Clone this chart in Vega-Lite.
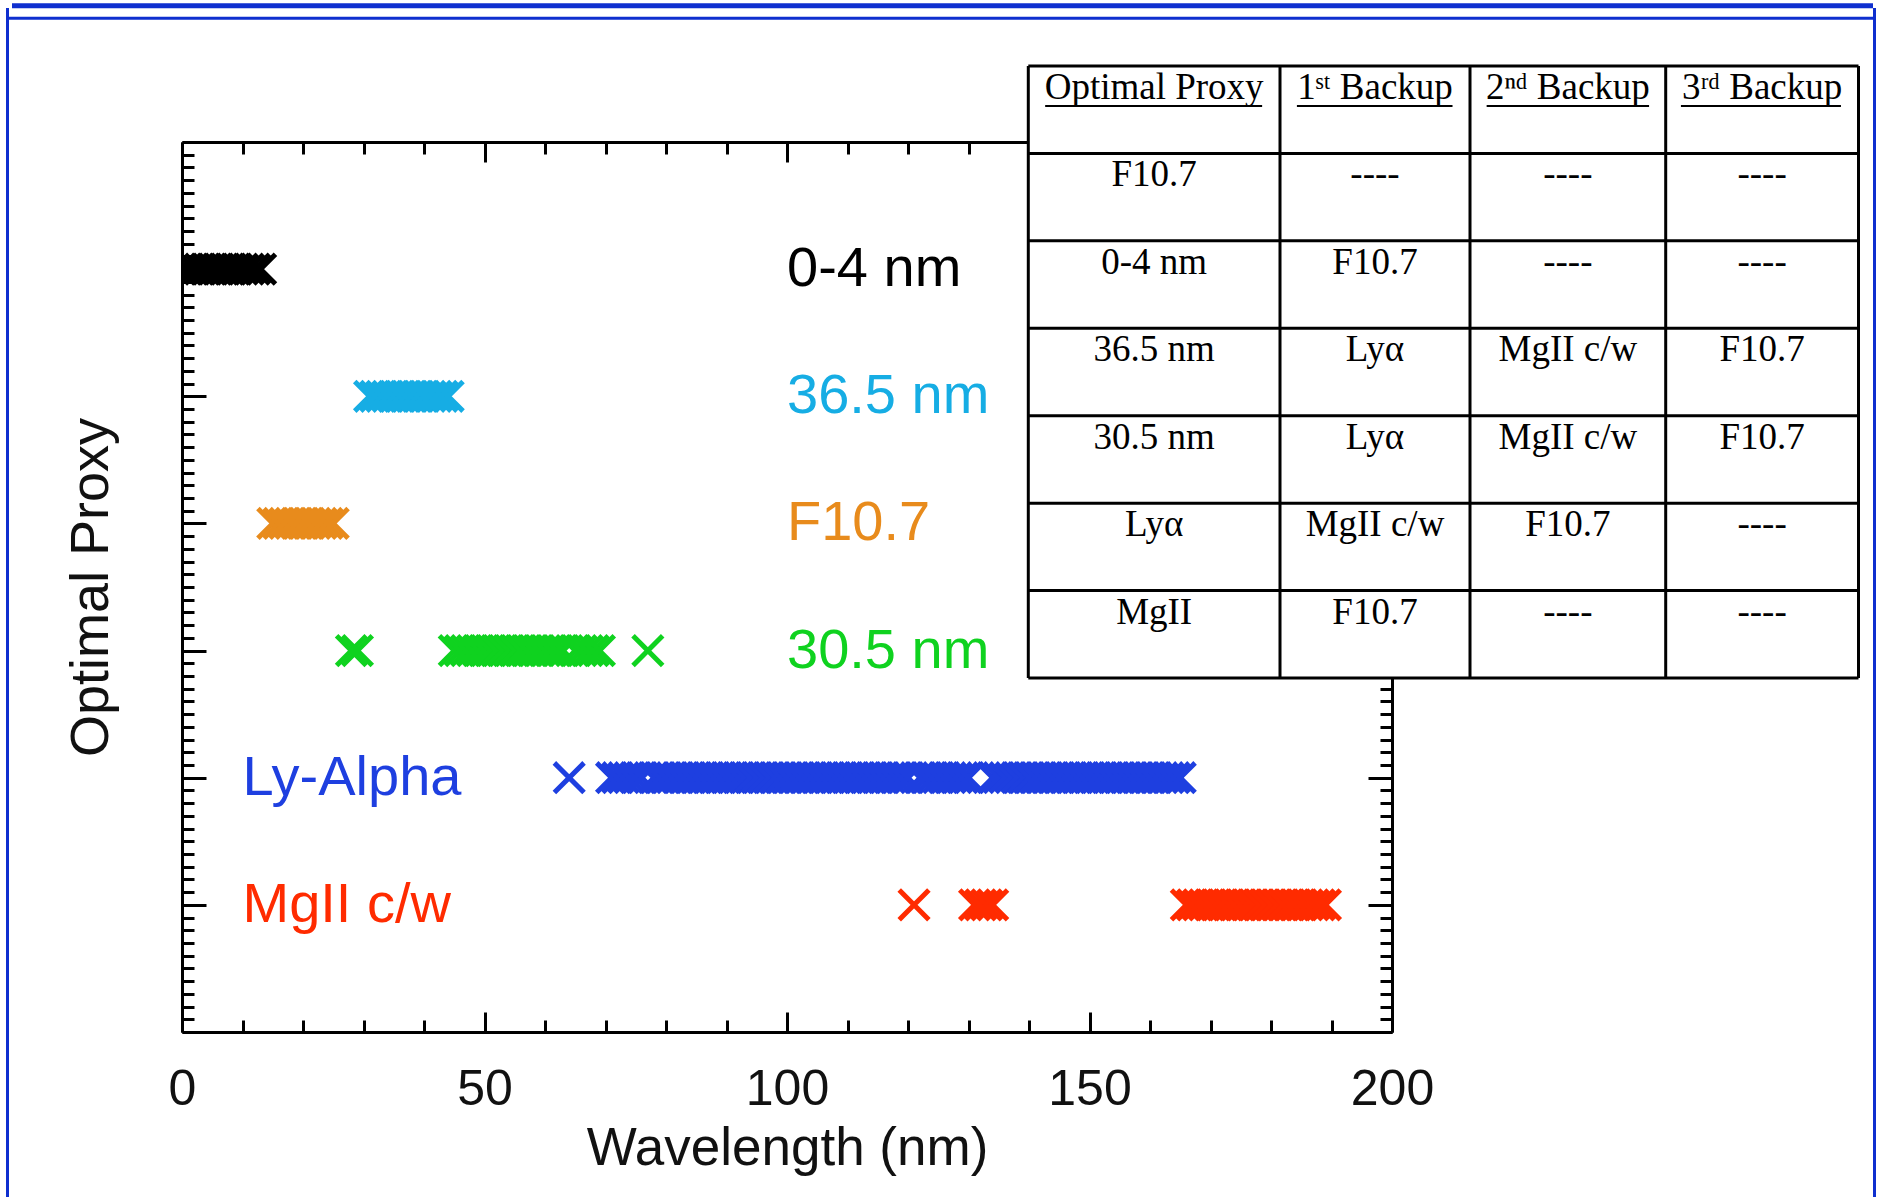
{
"$schema": "https://vega.github.io/schema/vega-lite/v6.json",
"width": 1210, "height": 890,
"autosize": {"type": "none"},
"padding": {"left": 182, "top": 142, "right": 489, "bottom": 165},
"background": "white",
"config": {"view": {"stroke": null}, "axis": {"grid": false}},
"datasets": {
"pts": [
{"p":"0-4 nm","w":0,"y":6},{"p":"0-4 nm","w":1,"y":6},{"p":"0-4 nm","w":2,"y":6},{"p":"0-4 nm","w":3,"y":6},{"p":"0-4 nm","w":4,"y":6},{"p":"0-4 nm","w":5,"y":6},{"p":"0-4 nm","w":6,"y":6},{"p":"0-4 nm","w":7,"y":6},{"p":"0-4 nm","w":8,"y":6},{"p":"0-4 nm","w":9,"y":6},{"p":"0-4 nm","w":10,"y":6},{"p":"0-4 nm","w":11,"y":6},{"p":"0-4 nm","w":12,"y":6},{"p":"0-4 nm","w":13,"y":6},
{"p":"36.5 nm","w":31,"y":5},{"p":"36.5 nm","w":32,"y":5},{"p":"36.5 nm","w":33,"y":5},{"p":"36.5 nm","w":34,"y":5},{"p":"36.5 nm","w":35,"y":5},{"p":"36.5 nm","w":36,"y":5},{"p":"36.5 nm","w":37,"y":5},{"p":"36.5 nm","w":38,"y":5},{"p":"36.5 nm","w":39,"y":5},{"p":"36.5 nm","w":40,"y":5},{"p":"36.5 nm","w":41,"y":5},{"p":"36.5 nm","w":42,"y":5},{"p":"36.5 nm","w":43,"y":5},{"p":"36.5 nm","w":44,"y":5},
{"p":"F10.7","w":15,"y":4},{"p":"F10.7","w":16,"y":4},{"p":"F10.7","w":17,"y":4},{"p":"F10.7","w":18,"y":4},{"p":"F10.7","w":19,"y":4},{"p":"F10.7","w":20,"y":4},{"p":"F10.7","w":21,"y":4},{"p":"F10.7","w":22,"y":4},{"p":"F10.7","w":23,"y":4},{"p":"F10.7","w":24,"y":4},{"p":"F10.7","w":25,"y":4},
{"p":"30.5 nm","w":28,"y":3},{"p":"30.5 nm","w":29,"y":3},
{"p":"30.5 nm","w":45,"y":3},{"p":"30.5 nm","w":46,"y":3},{"p":"30.5 nm","w":47,"y":3},{"p":"30.5 nm","w":48,"y":3},{"p":"30.5 nm","w":49,"y":3},{"p":"30.5 nm","w":50,"y":3},{"p":"30.5 nm","w":51,"y":3},{"p":"30.5 nm","w":52,"y":3},{"p":"30.5 nm","w":53,"y":3},{"p":"30.5 nm","w":54,"y":3},{"p":"30.5 nm","w":55,"y":3},{"p":"30.5 nm","w":56,"y":3},{"p":"30.5 nm","w":57,"y":3},{"p":"30.5 nm","w":58,"y":3},{"p":"30.5 nm","w":59,"y":3},{"p":"30.5 nm","w":60,"y":3},{"p":"30.5 nm","w":61,"y":3},{"p":"30.5 nm","w":62,"y":3},{"p":"30.5 nm","w":63,"y":3},
{"p":"30.5 nm","w":65,"y":3},{"p":"30.5 nm","w":66,"y":3},{"p":"30.5 nm","w":67,"y":3},{"p":"30.5 nm","w":68,"y":3},{"p":"30.5 nm","w":69,"y":3},
{"p":"30.5 nm","w":77,"y":3},
{"p":"Ly-Alpha","w":64,"y":2},
{"p":"Ly-Alpha","w":71,"y":2},{"p":"Ly-Alpha","w":72,"y":2},{"p":"Ly-Alpha","w":73,"y":2},{"p":"Ly-Alpha","w":74,"y":2},{"p":"Ly-Alpha","w":75,"y":2},{"p":"Ly-Alpha","w":76,"y":2},
{"p":"Ly-Alpha","w":78,"y":2},{"p":"Ly-Alpha","w":79,"y":2},{"p":"Ly-Alpha","w":80,"y":2},{"p":"Ly-Alpha","w":81,"y":2},{"p":"Ly-Alpha","w":82,"y":2},{"p":"Ly-Alpha","w":83,"y":2},{"p":"Ly-Alpha","w":84,"y":2},{"p":"Ly-Alpha","w":85,"y":2},{"p":"Ly-Alpha","w":86,"y":2},{"p":"Ly-Alpha","w":87,"y":2},{"p":"Ly-Alpha","w":88,"y":2},{"p":"Ly-Alpha","w":89,"y":2},{"p":"Ly-Alpha","w":90,"y":2},{"p":"Ly-Alpha","w":91,"y":2},{"p":"Ly-Alpha","w":92,"y":2},{"p":"Ly-Alpha","w":93,"y":2},{"p":"Ly-Alpha","w":94,"y":2},{"p":"Ly-Alpha","w":95,"y":2},{"p":"Ly-Alpha","w":96,"y":2},{"p":"Ly-Alpha","w":97,"y":2},{"p":"Ly-Alpha","w":98,"y":2},{"p":"Ly-Alpha","w":99,"y":2},{"p":"Ly-Alpha","w":100,"y":2},{"p":"Ly-Alpha","w":101,"y":2},{"p":"Ly-Alpha","w":102,"y":2},{"p":"Ly-Alpha","w":103,"y":2},{"p":"Ly-Alpha","w":104,"y":2},{"p":"Ly-Alpha","w":105,"y":2},{"p":"Ly-Alpha","w":106,"y":2},{"p":"Ly-Alpha","w":107,"y":2},{"p":"Ly-Alpha","w":108,"y":2},{"p":"Ly-Alpha","w":109,"y":2},{"p":"Ly-Alpha","w":110,"y":2},{"p":"Ly-Alpha","w":111,"y":2},{"p":"Ly-Alpha","w":112,"y":2},{"p":"Ly-Alpha","w":113,"y":2},{"p":"Ly-Alpha","w":114,"y":2},{"p":"Ly-Alpha","w":115,"y":2},{"p":"Ly-Alpha","w":116,"y":2},{"p":"Ly-Alpha","w":117,"y":2},{"p":"Ly-Alpha","w":118,"y":2},{"p":"Ly-Alpha","w":119,"y":2},{"p":"Ly-Alpha","w":120,"y":2},
{"p":"Ly-Alpha","w":122,"y":2},{"p":"Ly-Alpha","w":123,"y":2},{"p":"Ly-Alpha","w":124,"y":2},{"p":"Ly-Alpha","w":125,"y":2},{"p":"Ly-Alpha","w":126,"y":2},{"p":"Ly-Alpha","w":127,"y":2},{"p":"Ly-Alpha","w":128,"y":2},{"p":"Ly-Alpha","w":129,"y":2},{"p":"Ly-Alpha","w":130,"y":2},
{"p":"Ly-Alpha","w":134,"y":2},{"p":"Ly-Alpha","w":135,"y":2},{"p":"Ly-Alpha","w":136,"y":2},{"p":"Ly-Alpha","w":137,"y":2},{"p":"Ly-Alpha","w":138,"y":2},{"p":"Ly-Alpha","w":139,"y":2},{"p":"Ly-Alpha","w":140,"y":2},{"p":"Ly-Alpha","w":141,"y":2},{"p":"Ly-Alpha","w":142,"y":2},{"p":"Ly-Alpha","w":143,"y":2},{"p":"Ly-Alpha","w":144,"y":2},{"p":"Ly-Alpha","w":145,"y":2},{"p":"Ly-Alpha","w":146,"y":2},{"p":"Ly-Alpha","w":147,"y":2},{"p":"Ly-Alpha","w":148,"y":2},{"p":"Ly-Alpha","w":149,"y":2},{"p":"Ly-Alpha","w":150,"y":2},{"p":"Ly-Alpha","w":151,"y":2},{"p":"Ly-Alpha","w":152,"y":2},{"p":"Ly-Alpha","w":153,"y":2},{"p":"Ly-Alpha","w":154,"y":2},{"p":"Ly-Alpha","w":155,"y":2},{"p":"Ly-Alpha","w":156,"y":2},{"p":"Ly-Alpha","w":157,"y":2},{"p":"Ly-Alpha","w":158,"y":2},{"p":"Ly-Alpha","w":159,"y":2},{"p":"Ly-Alpha","w":160,"y":2},{"p":"Ly-Alpha","w":161,"y":2},{"p":"Ly-Alpha","w":162,"y":2},{"p":"Ly-Alpha","w":163,"y":2},{"p":"Ly-Alpha","w":164,"y":2},{"p":"Ly-Alpha","w":165,"y":2},
{"p":"MgII c/w","w":121,"y":1},
{"p":"MgII c/w","w":131,"y":1},{"p":"MgII c/w","w":132,"y":1},{"p":"MgII c/w","w":133,"y":1},{"p":"MgII c/w","w":134,"y":1},
{"p":"MgII c/w","w":166,"y":1},{"p":"MgII c/w","w":167,"y":1},{"p":"MgII c/w","w":168,"y":1},{"p":"MgII c/w","w":169,"y":1},{"p":"MgII c/w","w":170,"y":1},{"p":"MgII c/w","w":171,"y":1},{"p":"MgII c/w","w":172,"y":1},{"p":"MgII c/w","w":173,"y":1},{"p":"MgII c/w","w":174,"y":1},{"p":"MgII c/w","w":175,"y":1},{"p":"MgII c/w","w":176,"y":1},{"p":"MgII c/w","w":177,"y":1},{"p":"MgII c/w","w":178,"y":1},{"p":"MgII c/w","w":179,"y":1},{"p":"MgII c/w","w":180,"y":1},{"p":"MgII c/w","w":181,"y":1},{"p":"MgII c/w","w":182,"y":1},{"p":"MgII c/w","w":183,"y":1},{"p":"MgII c/w","w":184,"y":1},{"p":"MgII c/w","w":185,"y":1},{"p":"MgII c/w","w":186,"y":1},{"p":"MgII c/w","w":187,"y":1},{"p":"MgII c/w","w":188,"y":1},{"p":"MgII c/w","w":189,"y":1}
],
"lab": [
{"p":"0-4 nm","w":100,"y":6},{"p":"36.5 nm","w":100,"y":5},{"p":"F10.7","w":100,"y":4},{"p":"30.5 nm","w":100,"y":3},{"p":"Ly-Alpha","w":10,"y":2},{"p":"MgII c/w","w":10,"y":1}
],
"cells": [
{"r":0,"c":0,"t":"Optimal Proxy"},{"r":0,"c":1,"t":"1ˢᵗ Backup"},{"r":0,"c":2,"t":"2ⁿᵈ Backup"},{"r":0,"c":3,"t":"3ʳᵈ Backup"},
{"r":1,"c":0,"t":"F10.7"},{"r":1,"c":1,"t":"----"},{"r":1,"c":2,"t":"----"},{"r":1,"c":3,"t":"----"},
{"r":2,"c":0,"t":"0-4 nm"},{"r":2,"c":1,"t":"F10.7"},{"r":2,"c":2,"t":"----"},{"r":2,"c":3,"t":"----"},
{"r":3,"c":0,"t":"36.5 nm"},{"r":3,"c":1,"t":"Lyα"},{"r":3,"c":2,"t":"MgII c/w"},{"r":3,"c":3,"t":"F10.7"},
{"r":4,"c":0,"t":"30.5 nm"},{"r":4,"c":1,"t":"Lyα"},{"r":4,"c":2,"t":"MgII c/w"},{"r":4,"c":3,"t":"F10.7"},
{"r":5,"c":0,"t":"Lyα"},{"r":5,"c":1,"t":"MgII c/w"},{"r":5,"c":2,"t":"F10.7"},{"r":5,"c":3,"t":"----"},
{"r":6,"c":0,"t":"MgII"},{"r":6,"c":1,"t":"F10.7"},{"r":6,"c":2,"t":"----"},{"r":6,"c":3,"t":"----"}
],
"ul": [{"u0":-0.433,"u1":0.429},{"u0":0.589,"u1":1.408},{"u0":1.585,"u1":2.415},{"u0":2.579,"u1":3.409}],
"hl": [{"r":0},{"r":1},{"r":2},{"r":3},{"r":4},{"r":5},{"r":6},{"r":7}],
"vl": [{"b":-0.5},{"b":0.5},{"b":1.5},{"b":2.5},{"b":3.5}]
},
"layer": [
{
"resolve": {"axis": {"x": "independent", "y": "independent"}},
"layer": [
{
"data": {"name": "pts"},
"transform": [{"filter": "datum.y >= 4"}],
"mark": {"type": "point", "shape": "M-1,-1L1,1M-1,1L1,-1", "filled": false, "strokeWidth": 5, "size": 880, "opacity": 1, "clip": true},
"encoding": {
"x": {"field": "w", "type": "quantitative", "scale": {"domain": [0, 200], "nice": false, "zero": false},
"axis": {"orient": "bottom", "values": [0, 50, 100, 150, 200], "tickSize": -20, "tickWidth": 3, "tickColor": "#000", "domain": true, "domainWidth": 3, "domainColor": "#000", "labels": true, "labelFont": "Liberation Sans", "labelFontSize": 50, "labelColor": "#111", "labelPadding": 52, "labelFlush": false, "labelOverlap": false, "title": "Wavelength (nm)", "titleFont": "Liberation Sans", "titleFontSize": 53, "titleFontWeight": "normal", "titleColor": "#111", "titlePadding": 8}},
"y": {"field": "y", "type": "quantitative", "scale": {"domain": [0, 7], "nice": false, "zero": false},
"axis": {"orient": "left", "values": [0, 1, 2, 3, 4, 5, 6, 7], "tickSize": -24, "tickWidth": 3, "tickColor": "#000", "domain": true, "domainWidth": 3, "domainColor": "#000", "labels": false, "title": "Optimal Proxy", "titleFont": "Liberation Sans", "titleFontSize": 54, "titleFontWeight": "normal", "titleColor": "#111", "titlePadding": 62}},
"color": {"field": "p", "type": "nominal", "scale": {"domain": ["0-4 nm", "36.5 nm", "F10.7", "30.5 nm", "Ly-Alpha", "MgII c/w"], "range": ["#000000", "#16ade4", "#e88b1c", "#0fd21f", "#1e3fe0", "#ff2b00"]}, "legend": null}
}
},
{
"data": {"name": "pts"},
"transform": [{"filter": "datum.y < 4"}],
"mark": {"type": "point", "shape": "M-1,-1L1,1M-1,1L1,-1", "filled": false, "strokeWidth": 5, "size": 880, "opacity": 1, "clip": true},
"encoding": {
"x": {"field": "w", "type": "quantitative", "scale": {"domain": [0, 200], "nice": false, "zero": false},
"axis": {"orient": "bottom", "values": [10, 20, 30, 40, 60, 70, 80, 90, 110, 120, 130, 140, 160, 170, 180, 190], "tickSize": -12, "tickWidth": 3, "tickColor": "#000", "domain": false, "labels": false, "title": null}},
"y": {"field": "y", "type": "quantitative", "scale": {"domain": [0, 7], "nice": false, "zero": false},
"axis": {"orient": "left", "values": [0.1,0.2,0.3,0.4,0.5,0.6,0.7,0.8,0.9,1.1,1.2,1.3,1.4,1.5,1.6,1.7,1.8,1.9,2.1,2.2,2.3,2.4,2.5,2.6,2.7,2.8,2.9,3.1,3.2,3.3,3.4,3.5,3.6,3.7,3.8,3.9,4.1,4.2,4.3,4.4,4.5,4.6,4.7,4.8,4.9,5.1,5.2,5.3,5.4,5.5,5.6,5.7,5.8,5.9,6.1,6.2,6.3,6.4,6.5,6.6,6.7,6.8,6.9], "tickSize": -12, "tickWidth": 3, "tickColor": "#000", "domain": false, "labels": false, "title": null}},
"color": {"field": "p", "type": "nominal", "scale": {"domain": ["0-4 nm", "36.5 nm", "F10.7", "30.5 nm", "Ly-Alpha", "MgII c/w"], "range": ["#000000", "#16ade4", "#e88b1c", "#0fd21f", "#1e3fe0", "#ff2b00"]}, "legend": null}
}
},
{
"data": {"name": "lab"},
"transform": [{"filter": "datum.w >= 50"}],
"mark": {"type": "text", "align": "left", "baseline": "middle", "font": "Liberation Sans", "fontSize": 56},
"encoding": {
"x": {"field": "w", "type": "quantitative", "scale": {"domain": [0, 200], "nice": false, "zero": false},
"axis": {"orient": "top", "values": [0, 50, 100, 150, 200], "tickSize": -20, "tickWidth": 3, "tickColor": "#000", "domain": true, "domainWidth": 3, "domainColor": "#000", "labels": false, "title": null}},
"y": {"field": "y", "type": "quantitative", "scale": {"domain": [0, 7], "nice": false, "zero": false},
"axis": {"orient": "right", "values": [0, 1, 2, 3, 4, 5, 6, 7], "tickSize": -24, "tickWidth": 3, "tickColor": "#000", "domain": true, "domainWidth": 3, "domainColor": "#000", "labels": false, "title": null}},
"text": {"field": "p"},
"color": {"field": "p", "type": "nominal", "scale": {"domain": ["0-4 nm", "36.5 nm", "F10.7", "30.5 nm", "Ly-Alpha", "MgII c/w"], "range": ["#000000", "#16ade4", "#e88b1c", "#0fd21f", "#1e3fe0", "#ff2b00"]}, "legend": null}
}
},
{
"data": {"name": "lab"},
"transform": [{"filter": "datum.w < 50"}],
"mark": {"type": "text", "align": "left", "baseline": "middle", "font": "Liberation Sans", "fontSize": 56},
"encoding": {
"x": {"field": "w", "type": "quantitative", "scale": {"domain": [0, 200], "nice": false, "zero": false},
"axis": {"orient": "top", "values": [10, 20, 30, 40, 60, 70, 80, 90, 110, 120, 130, 140, 160, 170, 180, 190], "tickSize": -12, "tickWidth": 3, "tickColor": "#000", "domain": false, "labels": false, "title": null}},
"y": {"field": "y", "type": "quantitative", "scale": {"domain": [0, 7], "nice": false, "zero": false},
"axis": {"orient": "right", "values": [0.1,0.2,0.3,0.4,0.5,0.6,0.7,0.8,0.9,1.1,1.2,1.3,1.4,1.5,1.6,1.7,1.8,1.9,2.1,2.2,2.3,2.4,2.5,2.6,2.7,2.8,2.9,3.1,3.2,3.3,3.4,3.5,3.6,3.7,3.8,3.9,4.1,4.2,4.3,4.4,4.5,4.6,4.7,4.8,4.9,5.1,5.2,5.3,5.4,5.5,5.6,5.7,5.8,5.9,6.1,6.2,6.3,6.4,6.5,6.6,6.7,6.8,6.9], "tickSize": -12, "tickWidth": 3, "tickColor": "#000", "domain": false, "labels": false, "title": null}},
"text": {"field": "p"},
"color": {"field": "p", "type": "nominal", "scale": {"domain": ["0-4 nm", "36.5 nm", "F10.7", "30.5 nm", "Ly-Alpha", "MgII c/w"], "range": ["#000000", "#16ade4", "#e88b1c", "#0fd21f", "#1e3fe0", "#ff2b00"]}, "legend": null}
}
}
]
},
{
"layer": [
{
"data": {"values": [{}]},
"mark": {"type": "rect", "fill": "white", "stroke": null},
"encoding": {
"x": {"datum": -0.5, "type": "quantitative", "scale": {"domain": [-0.5, 0.5, 1.5, 2.5, 3.5], "range": [846.3, 1098, 1288, 1483.7, 1676.5], "nice": false, "zero": false}, "axis": null},
"x2": {"datum": 3.5},
"y": {"datum": 0, "type": "quantitative", "scale": {"domain": [0, 7], "range": [-76, 536], "nice": false, "zero": false}, "axis": null},
"y2": {"datum": 7}
}
},
{
"data": {"name": "cells"},
"mark": {"type": "text", "align": "center", "baseline": "middle", "font": "Liberation Serif", "fontSize": 37, "dy": 22, "color": "#000"},
"encoding": {
"x": {"field": "c", "type": "quantitative", "scale": {"domain": [-0.5, 0.5, 1.5, 2.5, 3.5], "range": [846.3, 1098, 1288, 1483.7, 1676.5], "nice": false, "zero": false}, "axis": null},
"y": {"field": "r", "type": "quantitative", "scale": {"domain": [0, 7], "range": [-76, 536], "nice": false, "zero": false}, "axis": null},
"text": {"field": "t"}
}
},
{
"data": {"name": "ul"},
"mark": {"type": "rule", "color": "#000", "strokeWidth": 2, "yOffset": 40},
"encoding": {
"x": {"field": "u0", "type": "quantitative", "scale": {"domain": [-0.5, 0.5, 1.5, 2.5, 3.5], "range": [846.3, 1098, 1288, 1483.7, 1676.5], "nice": false, "zero": false}, "axis": null},
"x2": {"field": "u1"},
"y": {"datum": 0, "type": "quantitative", "scale": {"domain": [0, 7], "range": [-76, 536], "nice": false, "zero": false}, "axis": null}
}
},
{
"data": {"name": "hl"},
"mark": {"type": "rule", "color": "#000", "strokeWidth": 3},
"encoding": {
"x": {"datum": -0.5, "type": "quantitative", "scale": {"domain": [-0.5, 0.5, 1.5, 2.5, 3.5], "range": [846.3, 1098, 1288, 1483.7, 1676.5], "nice": false, "zero": false}, "axis": null},
"x2": {"datum": 3.5},
"y": {"field": "r", "type": "quantitative", "scale": {"domain": [0, 7], "range": [-76, 536], "nice": false, "zero": false}, "axis": null}
}
},
{
"data": {"name": "vl"},
"mark": {"type": "rule", "color": "#000", "strokeWidth": 3},
"encoding": {
"x": {"field": "b", "type": "quantitative", "scale": {"domain": [-0.5, 0.5, 1.5, 2.5, 3.5], "range": [846.3, 1098, 1288, 1483.7, 1676.5], "nice": false, "zero": false}, "axis": null},
"y": {"datum": 0, "type": "quantitative", "scale": {"domain": [0, 7], "range": [-76, 536], "nice": false, "zero": false}, "axis": null},
"y2": {"datum": 7}
}
}
]
},
{
"layer": [
{
"data": {"values": [{}]},
"mark": {"type": "rule", "color": "#0f2fcf", "strokeWidth": 5},
"encoding": {
"x": {"datum": 12, "type": "quantitative", "scale": {"domain": [0, 1881], "range": [-182, 1699], "nice": false, "zero": false}, "axis": null},
"x2": {"datum": 1873},
"y": {"datum": 5.8, "type": "quantitative", "scale": {"domain": [0, 1197], "range": [-142, 1055], "nice": false, "zero": false}, "axis": null}
}
},
{
"data": {"values": [{}]},
"mark": {"type": "rule", "color": "#0f2fcf", "strokeWidth": 3},
"encoding": {
"x": {"datum": 9, "type": "quantitative", "scale": {"domain": [0, 1881], "range": [-182, 1699], "nice": false, "zero": false}, "axis": null},
"x2": {"datum": 1876},
"y": {"datum": 18.3, "type": "quantitative", "scale": {"domain": [0, 1197], "range": [-142, 1055], "nice": false, "zero": false}, "axis": null}
}
},
{
"data": {"values": [{}]},
"mark": {"type": "rule", "color": "#0f2fcf", "strokeWidth": 3},
"encoding": {
"x": {"datum": 7.5, "type": "quantitative", "scale": {"domain": [0, 1881], "range": [-182, 1699], "nice": false, "zero": false}, "axis": null},
"y": {"datum": 8, "type": "quantitative", "scale": {"domain": [0, 1197], "range": [-142, 1055], "nice": false, "zero": false}, "axis": null},
"y2": {"datum": 1197}
}
},
{
"data": {"values": [{}]},
"mark": {"type": "rule", "color": "#0f2fcf", "strokeWidth": 3},
"encoding": {
"x": {"datum": 1874.5, "type": "quantitative", "scale": {"domain": [0, 1881], "range": [-182, 1699], "nice": false, "zero": false}, "axis": null},
"y": {"datum": 8, "type": "quantitative", "scale": {"domain": [0, 1197], "range": [-142, 1055], "nice": false, "zero": false}, "axis": null},
"y2": {"datum": 1197}
}
}
]
}
],
"resolve": {"scale": {"x": "independent", "y": "independent"}, "axis": {"x": "independent", "y": "independent"}}
}
